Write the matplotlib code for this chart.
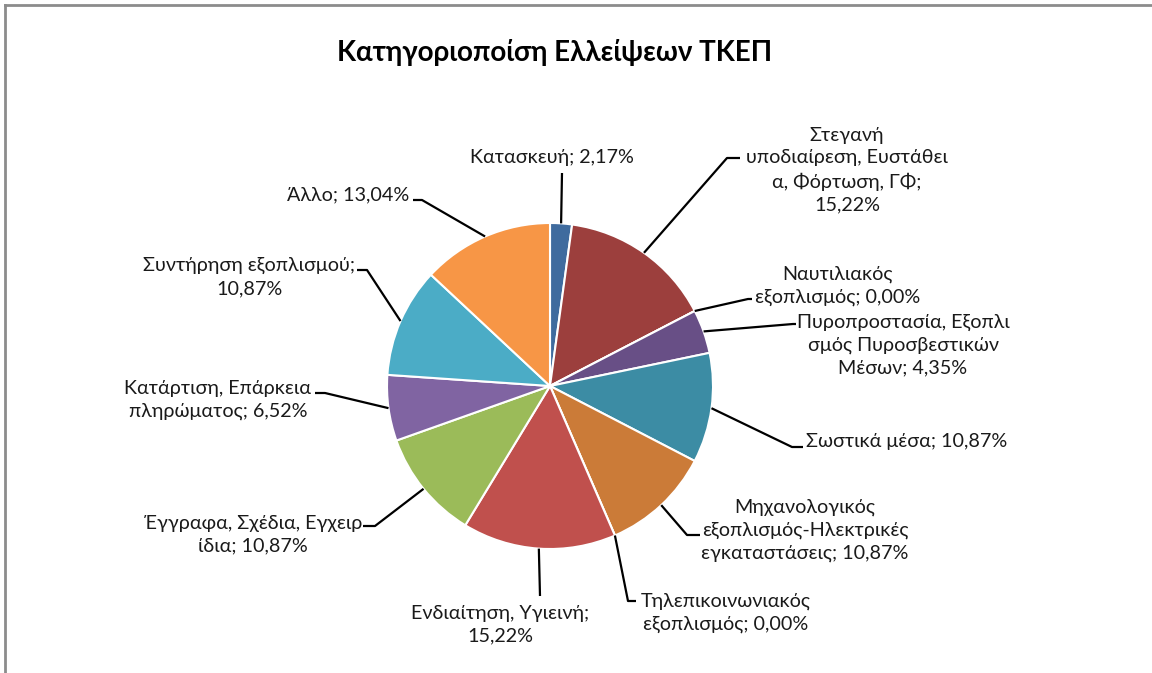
import numpy as np
import matplotlib
matplotlib.use("Agg")
from matplotlib import pyplot as plt
from matplotlib.lines import Line2D

plt.rcParams['font.family'] = ['Lato', 'DejaVu Sans']

TITLE = "Κατηγοριοποίση Ελλείψεων ΤΚΕΠ"

categories = [
    "Κατασκευή",
    "Στεγανή\nυποδιαίρεση, Ευστάθει\nα, Φόρτωση, ΓΦ;",
    "Ναυτιλιακός\nεξοπλισμός",
    "Πυροπροστασία, Εξοπλι\nσμός Πυροσβεστικών\nΜέσων",
    "Σωστικά μέσα",
    "Μηχανολογικός\nεξοπλισμός-Ηλεκτρικές\nεγκαταστάσεις",
    "Τηλεπικοινωνιακός\nεξοπλισμός",
    "Ενδιαίτηση, Υγιεινή;",
    "Έγγραφα, Σχέδια, Εγχειρ\nίδια",
    "Κατάρτιση, Επάρκεια\nπληρώματος",
    "Συντήρηση εξοπλισμού;",
    "Άλλο",
]
percent = [2.17, 15.22, 0.00, 4.35, 10.87, 10.87, 0.00, 15.22, 10.87, 6.52, 10.87, 13.04]
colors = ["#3F6B9E", "#9C3F3D", "#7E9A48", "#684F86", "#3C8CA4", "#CB7B38",
          "#95B3D7", "#C0504D", "#9BBB59", "#8064A2", "#4BACC6", "#F79646"]

W, H = 1152, 673


def fy(y):
    # pixel row -> data y
    return H - y


# label layout in pixels: (elbow, end of leader, text xy, ha)
layout = [
    (None, (562, 173), (552, 158), "center"),
    ((727, 158), (740, 158), (847, 170), "center"),
    ((748, 299), (752, 299), (838, 286), "center"),
    ((793, 324), (796, 324), (903, 345), "center"),
    ((792, 447), (803, 447), (806, 441), "left"),
    ((687, 535), (700, 535), (805, 530), "center"),
    ((628, 601), (636, 601), (726, 613), "center"),
    (None, (540, 596), (500, 625), "center"),
    ((375, 526), (363, 526), (253, 535), "center"),
    ((325, 393), (315, 393), (218, 400), "center"),
    ((367, 270), (357, 270), (249, 277), "center"),
    ((422, 200), (413, 200), (348, 195), "center"),
]


def label_text(name, p):
    s = f"{p:.2f}".replace(".", ",") + "%"
    if name.endswith(";"):
        return f"{name}\n{s}"
    return f"{name}; {s}"


fig = plt.figure(figsize=(W / 100, H / 100), dpi=100)
ax = fig.add_axes([0, 0, 1, 1])

cx, cy, r = 550, fy(386), 163
wedges, _ = ax.pie(percent, colors=colors, startangle=90, counterclock=False,
                   center=(cx, cy), radius=r,
                   wedgeprops=dict(edgecolor="white", linewidth=1.5))
ax.set_xlim(0, W)
ax.set_ylim(0, H)
ax.set_aspect("equal")
ax.set_axis_off()

for w, name, p, (elbow, end, txt, ha) in zip(wedges, categories, percent, layout):
    mid = np.deg2rad((w.theta1 + w.theta2) / 2)
    x0, y0 = cx + r * np.cos(mid), cy + r * np.sin(mid)
    xs, ys = [x0], [y0]
    if elbow is not None:
        xs.append(elbow[0]); ys.append(fy(elbow[1]))
    xs.append(end[0]); ys.append(fy(end[1]))
    ax.plot(xs, ys, color="black", lw=1.6, solid_capstyle="butt")
    ax.text(txt[0], fy(txt[1]), label_text(name, p), ha=ha, va="center",
            fontsize=14.2, linespacing=1.4, color="#1a1a1a")

ax.text(555, fy(53), TITLE, ha="center", va="center", fontsize=20, fontweight="bold")

# chart frame (only top and left edges are visible)
fig.add_artist(Line2D([5 / W, 1], [1 - 5 / H, 1 - 5 / H], color="#8c8c8c", lw=2))
fig.add_artist(Line2D([5 / W, 5 / W], [0, 1 - 5 / H], color="#8c8c8c", lw=2))

fig.savefig("out.png", dpi=100)
